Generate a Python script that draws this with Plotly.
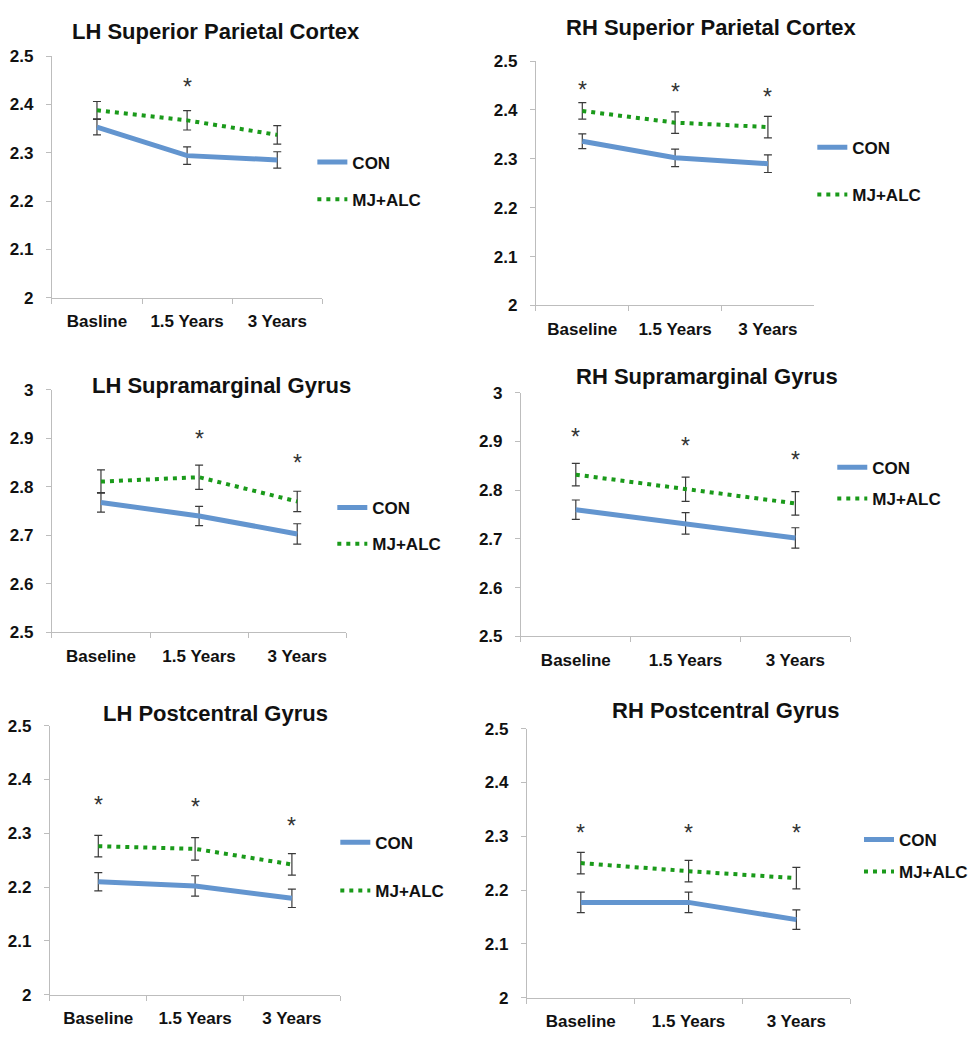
import plotly.graph_objects as go

# ---------------- data ----------------
cats_p1 = ["Basline", "1.5 Years", "3 Years"]
cats = ["Baseline", "1.5 Years", "3 Years"]

titles = ["LH Superior Parietal Cortex", "RH Superior Parietal Cortex",
          "LH Supramarginal Gyrus", "RH Supramarginal Gyrus",
          "LH Postcentral Gyrus", "RH Postcentral Gyrus"]

con_lh_spc = [2.353, 2.294, 2.285]
con_lh_spc_err = [0.016, 0.018, 0.017]
mj_lh_spc = [2.388, 2.367, 2.337]
mj_lh_spc_err = [0.018, 0.020, 0.019]
star_lh_spc_x = ["1.5 Years"]
star_lh_spc_y = [2.447]

con_rh_spc = [2.336, 2.302, 2.290]
con_rh_spc_err = [0.015, 0.018, 0.018]
mj_rh_spc = [2.398, 2.374, 2.365]
mj_rh_spc_err = [0.017, 0.022, 0.022]
star_rh_spc_x = ["Baseline", "1.5 Years", "3 Years"]
star_rh_spc_y = [2.450, 2.446, 2.436]

con_lh_smg = [2.768, 2.740, 2.703]
con_lh_smg_err = [0.020, 0.020, 0.021]
mj_lh_smg = [2.811, 2.820, 2.770]
mj_lh_smg_err = [0.024, 0.025, 0.021]
star_lh_smg_x = ["1.5 Years", "3 Years"]
star_lh_smg_y = [2.910, 2.860]

con_rh_smg = [2.760, 2.732, 2.702]
con_rh_smg_err = [0.020, 0.022, 0.021]
mj_rh_smg = [2.832, 2.802, 2.773]
mj_rh_smg_err = [0.023, 0.025, 0.024]
star_rh_smg_x = ["Baseline", "1.5 Years", "3 Years"]
star_rh_smg_y = [2.920, 2.902, 2.872]

con_lh_pcg = [2.210, 2.202, 2.179]
con_lh_pcg_err = [0.017, 0.019, 0.017]
mj_lh_pcg = [2.276, 2.271, 2.242]
mj_lh_pcg_err = [0.020, 0.021, 0.020]
star_lh_pcg_x = ["Baseline", "1.5 Years", "3 Years"]
star_lh_pcg_y = [2.361, 2.358, 2.323]

con_rh_pcg = [2.177, 2.177, 2.145]
con_rh_pcg_err = [0.019, 0.019, 0.018]
mj_rh_pcg = [2.250, 2.235, 2.222]
mj_rh_pcg_err = [0.020, 0.020, 0.020]
star_rh_pcg_x = ["Baseline", "1.5 Years", "3 Years"]
star_rh_pcg_y = [2.316, 2.316, 2.316]

y_ranges = [(2.0, 2.5), (2.0, 2.5), (2.5, 3.0), (2.5, 3.0), (2.0, 2.5), (2.0, 2.5)]

# ---------------- layout geometry (pixels) ----------------
W, H = 973, 1040
plot_px = [  # x0, x1, ytop, ybottom
    (52, 323, 48, 294),
    (537, 816, 53, 302),
    (52, 347, 388, 635),
    (522, 852, 391, 639),
    (50, 341, 730, 1004),
    (528, 852, 733, 1007),
]
title_px = [(216, 23), (713, 19), (222, 383), (708, 374), (216, 718), (727, 715)]
legend_px = [(318, 157, 38), (819, 142, 48), (338, 509, 37), (839, 468, 32), (341, 850, 49), (866, 847, 33)]

FONT = "Liberation Sans, Arial, sans-serif"
CON_COLOR = "#6395CF"
MJ_COLOR = "#1A9A1A"
ERR_COLOR = "#3A3A3A"
AXIS_COLOR = "#BDBDBD"

panels = [
    (cats_p1, con_lh_spc, con_lh_spc_err, mj_lh_spc, mj_lh_spc_err, star_lh_spc_x, star_lh_spc_y),
    (cats, con_rh_spc, con_rh_spc_err, mj_rh_spc, mj_rh_spc_err, star_rh_spc_x, star_rh_spc_y),
    (cats, con_lh_smg, con_lh_smg_err, mj_lh_smg, mj_lh_smg_err, star_lh_smg_x, star_lh_smg_y),
    (cats, con_rh_smg, con_rh_smg_err, mj_rh_smg, mj_rh_smg_err, star_rh_smg_x, star_rh_smg_y),
    (cats, con_lh_pcg, con_lh_pcg_err, mj_lh_pcg, mj_lh_pcg_err, star_lh_pcg_x, star_lh_pcg_y),
    (cats, con_rh_pcg, con_rh_pcg_err, mj_rh_pcg, mj_rh_pcg_err, star_rh_pcg_x, star_rh_pcg_y),
]

fig = go.Figure()
layout = dict(
    width=W, height=H, margin=dict(l=0, r=0, t=0, b=0),
    paper_bgcolor="white", plot_bgcolor="white",
    font=dict(family=FONT, color="#111111"),
    annotations=[],
)

for i, (cx, con, cone, mj, mje, sx, sy) in enumerate(panels):
    n = "" if i == 0 else str(i + 1)
    xa, ya = "x" + n, "y" + n
    leg = "legend" + n
    if i == 0:
        sx = [cx[cats.index(s)] if s in cats else s for s in sx]
    fig.add_trace(go.Scatter(
        x=cx, y=con, mode="lines", name="CON", xaxis=xa, yaxis=ya,
        line=dict(color=CON_COLOR, width=5),
        error_y=dict(type="data", array=cone, visible=True, color=ERR_COLOR, thickness=1.2, width=4),
        legend=leg, legendgroup="con" + n,
    ))
    fig.add_trace(go.Scatter(
        x=cx, y=mj, mode="lines", name="MJ+ALC", xaxis=xa, yaxis=ya,
        line=dict(color=MJ_COLOR, width=4, dash="4px,5px"),
        error_y=dict(type="data", array=mje, visible=True, color=ERR_COLOR, thickness=1.2, width=4),
        legend=leg, legendgroup="mj" + n,
    ))
    # significance asterisks, placed through the axes
    for sxx, syy in zip(sx, sy):
        layout["annotations"].append(dict(
            x=sxx, y=syy, xref=xa, yref=ya, text="*", showarrow=False,
            xanchor="center", yanchor="middle", yshift=-5,
            font=dict(size=23, color="#333333", family=FONT),
        ))
    x0, x1, yt, yb = plot_px[i]
    layout["xaxis" + n] = dict(
        domain=[x0 / W, x1 / W], anchor=ya, type="category",
        categoryorder="array", categoryarray=cx, range=[-0.5, 2.5],
        showline=True, linecolor=AXIS_COLOR, linewidth=1,
        ticks="outside", tickson="boundaries", ticklen=5, tickcolor=AXIS_COLOR,
        showgrid=False, zeroline=False, ticklabelstandoff=8,
        tickfont=dict(size=17, family=FONT, color="#111111", weight="bold"),
    )
    layout["yaxis" + n] = dict(
        domain=[1 - yb / H, 1 - yt / H], anchor=xa, range=list(y_ranges[i]),
        dtick=0.1, tick0=y_ranges[i][0],
        showline=True, linecolor=AXIS_COLOR, linewidth=1,
        ticks="outside", ticklen=5, tickcolor=AXIS_COLOR,
        showgrid=False, zeroline=False, ticklabelstandoff=9,
        tickfont=dict(size=17, family=FONT, color="#111111", weight="bold"),
    )
    tx, ty = title_px[i]
    layout["annotations"].append(dict(
        text="<b>%s</b>" % titles[i], x=tx / W, y=1 - ty / H, xref="paper", yref="paper",
        xanchor="center", yanchor="middle", showarrow=False,
        font=dict(size=22, family=FONT, color="#111111"),
    ))
    lx, ly, gap = legend_px[i]
    layout[leg] = dict(
        x=(lx - 5) / W, y=1 - (ly - 19) / H, xanchor="left", yanchor="top",
        bgcolor="rgba(0,0,0,0)", borderwidth=0,
        font=dict(size=17, family=FONT, color="#111111", weight="bold"),
        tracegroupgap=gap - 26, itemwidth=30,
    )

fig.update_layout(**layout)
fig.write_html("out.html", config={"displayModeBar": False},
               post_script="document.body.style.margin='0px';")
